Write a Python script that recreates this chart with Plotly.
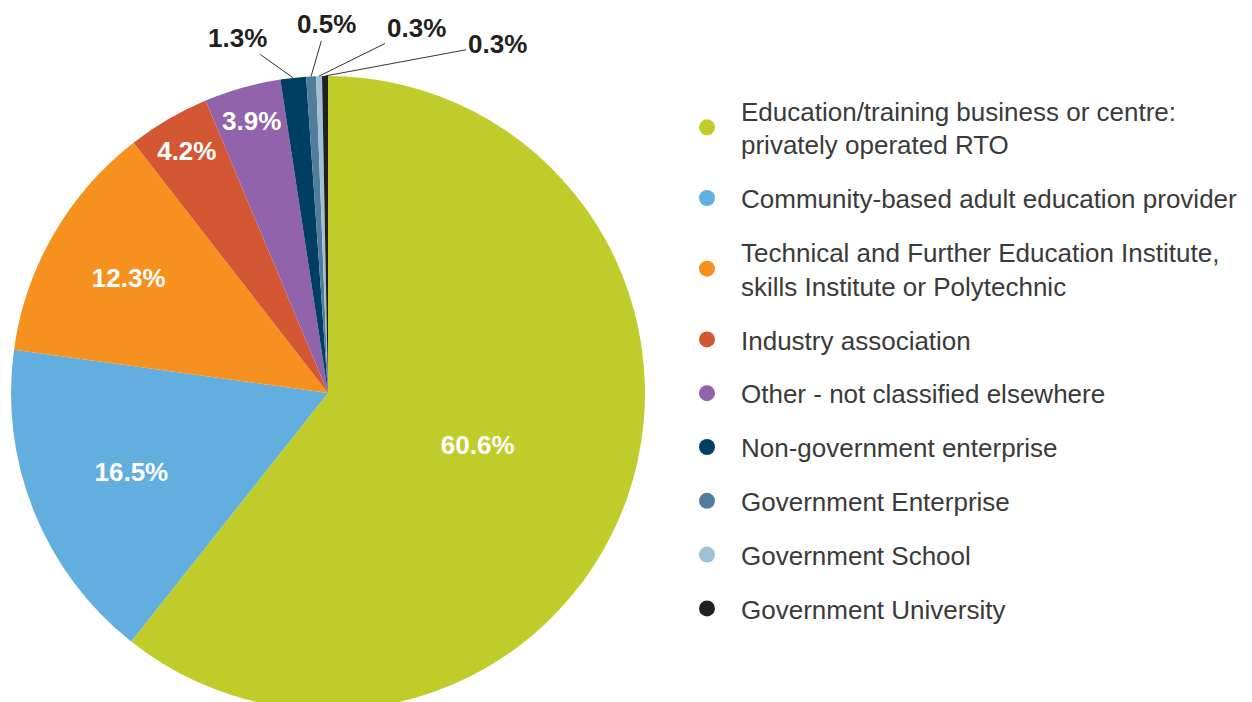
import math
import plotly.graph_objects as go

categories = [
    "Education/training business or centre:<br>privately operated RTO",
    "Community-based adult education provider",
    "Technical and Further Education Institute,<br>skills Institute or Polytechnic",
    "Industry association",
    "Other - not classified elsewhere",
    "Non-government enterprise",
    "Government Enterprise",
    "Government School",
    "Government University",
]
values = [60.6, 16.5, 12.3, 4.2, 3.9, 1.3, 0.5, 0.3, 0.3]
colors = ["#BFCC2A", "#62AEDF", "#F6901E", "#D45733", "#9163AB",
          "#003F63", "#517C9A", "#A0C0D6", "#231F20"]
inside_flags = [True] * 5 + [False] * 4
# pixel offsets of callout labels relative to their slice (styling only)
callout_offsets = {5: (-56, -40), 6: (15, -52), 7: (97, -48), 8: (172, -32)}

W, H = 1252, 702
FONT = "Liberation Sans, Arial, Helvetica, sans-serif"

# pie placement (pixels, figure coordinates)
CX, CY, R = 320, 385, 317
dom_x = [(CX - R) / W, (CX + R) / W]
dom_y = [max(0.0, 1 - (CY + R) / H), 1 - (CY - R) / H]

fig = go.Figure()
fig.add_trace(go.Pie(
    labels=categories,
    values=values,
    sort=False,
    direction="clockwise",
    rotation=0,
    marker=dict(colors=colors, line=dict(width=0)),
    text=[f"{v:.1f}%" if f else "" for v, f in zip(values, inside_flags)],
    textinfo="text",
    textposition=["inside" if f else "none" for f in inside_flags],
    insidetextorientation="horizontal",
    insidetextfont=dict(family=FONT, size=26, color="white", weight="bold"),
    domain=dict(x=dom_x, y=dom_y),
    showlegend=False,
    hoverinfo="label+value",
))

for name, col in zip(categories, colors):
    fig.add_trace(go.Scatter(
        x=[None], y=[None], mode="markers", name=name, legendgroup=name,
        marker=dict(color=col, size=22, symbol="circle"),
        showlegend=True,
    ))

# callout labels for the small slices, anchored at slice mid-angle on the rim
total = sum(values)
cum = 0.0
annotations = []
for i, v in enumerate(values):
    mid = (cum + v / 2) / total * 2 * math.pi
    cum += v
    if i in callout_offsets:
        px = CX + R * math.sin(mid)
        py = CY - R * math.cos(mid)
        ax, ay = callout_offsets[i]
        annotations.append(dict(
            x=px / W, y=1 - py / H, xref="paper", yref="paper",
            text=f"{v:.1f}%", showarrow=True, arrowhead=0, arrowwidth=1,
            arrowcolor="#333333", ax=ax, ay=ay, standoff=0,
            font=dict(family=FONT, size=26, color="#231F20", weight="bold"),
        ))

fig.update_layout(
    width=W, height=H,
    margin=dict(l=0, r=0, t=0, b=0),
    paper_bgcolor="white", plot_bgcolor="white",
    xaxis=dict(visible=False), yaxis=dict(visible=False),
    annotations=annotations,
    legend=dict(
        x=665 / W, y=1 - 79 / H, xanchor="left", yanchor="top",
        font=dict(family=FONT, size=26, color="#3A3A3A"),
        tracegroupgap=17, traceorder="grouped", itemwidth=58,
        bgcolor="rgba(0,0,0,0)", borderwidth=0,
    ),
)

fig.write_html("out.html")
